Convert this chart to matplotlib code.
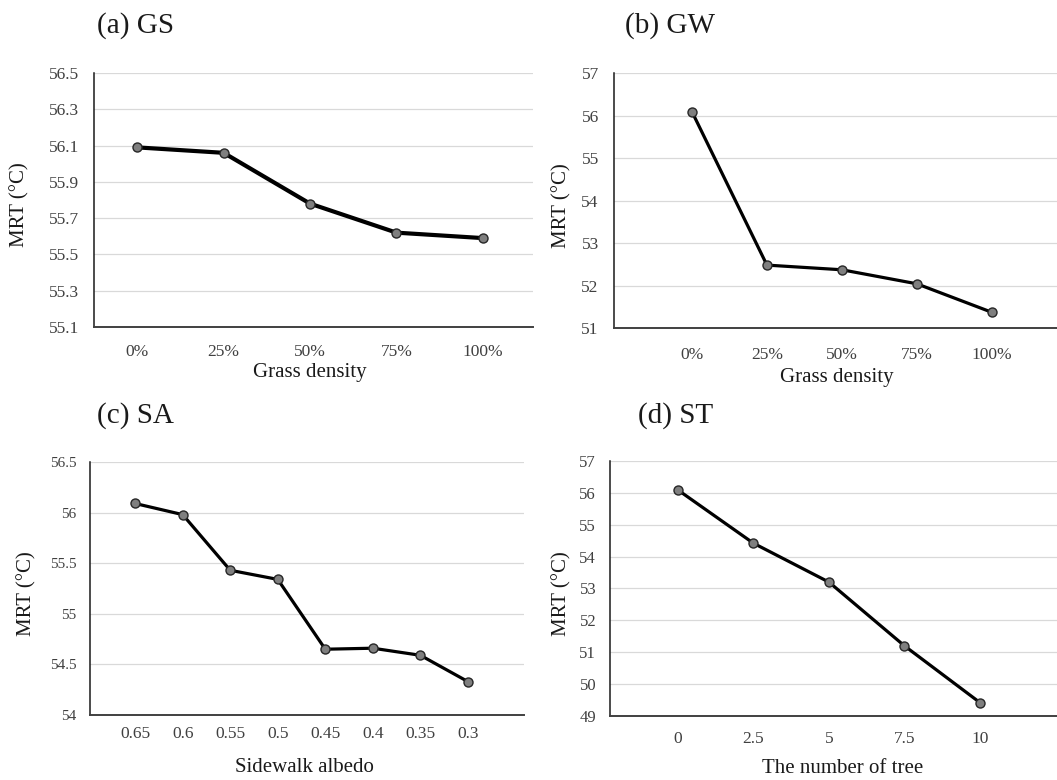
import matplotlib
matplotlib.use("Agg")
import matplotlib.pyplot as plt
import numpy as np

# ---- data ----
gs_labels = ['0%', '25%', '50%', '75%', '100%']
gs_mrt = [56.09, 56.06, 55.78, 55.62, 55.59]

gw_labels = ['0%', '25%', '50%', '75%', '100%']
gw_mrt = [56.09, 52.48, 52.37, 52.04, 51.37]

sa_labels = ['0.65', '0.6', '0.55', '0.5', '0.45', '0.4', '0.35', '0.3']
sa_mrt = [56.09, 55.98, 55.43, 55.34, 54.65, 54.66, 54.59, 54.33]

st_labels = ['0', '2.5', '5', '7.5', '10']
st_mrt = [56.09, 54.42, 53.20, 51.20, 49.42]

gs_yticks = [55.1, 55.3, 55.5, 55.7, 55.9, 56.1, 56.3, 56.5]
gw_yticks = [51, 52, 53, 54, 55, 56, 57]
sa_yticks = [54, 54.5, 55, 55.5, 56, 56.5]
st_yticks = [49, 50, 51, 52, 53, 54, 55, 56, 57]

plt.rcParams['font.family'] = ['Liberation Serif', 'DejaVu Serif']

fig = plt.figure(figsize=(10.57, 7.80), dpi=100)

W, H = 1057, 780
def rect(l, r, t, b):
    return [l / W, 1 - b / H, (r - l) / W, (b - t) / H]

panels = [
    dict(rect=rect(94, 533, 73, 327), labels=gs_labels, y=gs_mrt, yticks=gs_yticks,
         yfmt='{:.1f}', xlim=(-0.50, 4.58), lw=3.0, title='(a) GS', tpos=(97, 26),
         xlabel='Grass density', xlc=(0.492, -0.178), ylc=-0.169, xpad=12, ytick_fs=12.5,
         ypad=11),
    dict(rect=rect(614, 1057, 73, 328), labels=gw_labels, y=gw_mrt, yticks=gw_yticks,
         yfmt='{:g}', xlim=(-1.04, 4.87), lw=2.3, title='(b) GW', tpos=(625, 26),
         xlabel='Grass density', xlc=(0.503, -0.196), ylc=-0.117, xpad=13.5, ytick_fs=12.5,
         ypad=11),
    dict(rect=rect(90, 524, 462, 715), labels=sa_labels, y=sa_mrt, yticks=sa_yticks,
         yfmt='{:g}', xlim=(-0.95, 8.18), lw=2.3, title='(c) SA', tpos=(97, 416),
         xlabel='Sidewalk albedo', xlc=(0.495, -0.209), ylc=-0.145, xpad=8, ytick_fs=11,
         ypad=9.5),
    dict(rect=rect(610, 1057, 461, 716), labels=st_labels, y=st_mrt, yticks=st_yticks,
         yfmt='{:g}', xlim=(-0.90, 5.02), lw=2.3, title='(d) ST', tpos=(638, 416),
         xlabel='The number of tree', xlc=(0.521, -0.204), ylc=-0.107, xpad=10.5, ytick_fs=12,
         ypad=10),
]

for p in panels:
    ax = fig.add_axes(p['rect'])
    x = np.arange(len(p['labels']))
    ax.plot(x, p['y'], color='black', lw=p['lw'], marker='o', markersize=6.5,
            markerfacecolor='#7f7f7f', markeredgecolor='#262626', markeredgewidth=1.0,
            zorder=3, solid_joinstyle='round')
    ax.set_xlim(*p['xlim'])
    ax.set_ylim(p['yticks'][0], p['yticks'][-1])
    ax.set_xticks(x)
    ax.set_xticklabels(p['labels'])
    ax.set_yticks(p['yticks'])
    ax.set_yticklabels([p['yfmt'].format(v) for v in p['yticks']])
    ax.tick_params(axis='x', length=0, pad=p['xpad'], labelsize=12.5, labelcolor='#404040')
    ax.tick_params(axis='y', length=0, pad=p['ypad'], labelsize=p['ytick_fs'], labelcolor='#404040')
    ax.grid(axis='y', color='#d9d9d9', lw=0.9)
    ax.set_axisbelow(True)
    for s in ['top', 'right']:
        ax.spines[s].set_visible(False)
    ax.spines['left'].set_color('#1a1a1a')
    ax.spines['left'].set_linewidth(1.1)
    ax.spines['bottom'].set_color('#404040')
    ax.spines['bottom'].set_linewidth(1.4)
    ax.set_xlabel(p['xlabel'], fontsize=15, color='#1a1a1a', va='center')
    ax.xaxis.set_label_coords(*p['xlc'])
    ax.set_ylabel('MRT (°C)', fontsize=15, color='#1a1a1a', va='center')
    ax.yaxis.set_label_coords(p['ylc'], 0.48)
    fig.text(p['tpos'][0] / W, 1 - p['tpos'][1] / H, p['title'], fontsize=21,
             ha='left', va='center', color='#1a1a1a')

fig.savefig('out.png', dpi=100)
